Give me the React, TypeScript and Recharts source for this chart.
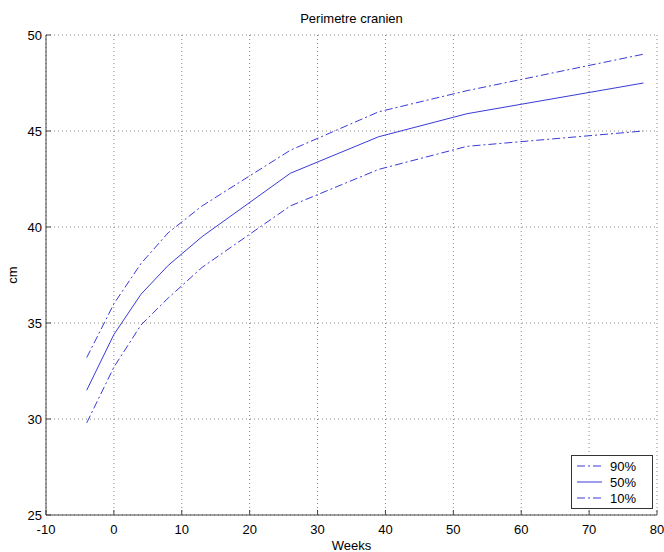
import React from 'react';
import { LineChart, Line, XAxis, YAxis, CartesianGrid, Legend } from 'recharts';

const weeks = [-4, 0, 4, 8, 13, 26, 39, 52, 78];
const p90 = [33.2, 36.0, 38.1, 39.7, 41.1, 44.0, 46.0, 47.1, 49.0];
const p50 = [31.5, 34.4, 36.5, 38.0, 39.5, 42.8, 44.7, 45.9, 47.5];
const p10 = [29.8, 32.7, 34.9, 36.3, 37.9, 41.1, 43.0, 44.2, 45.0];
const xTicks = [-10, 0, 10, 20, 30, 40, 50, 60, 70, 80];
const yTicks = [25, 30, 35, 40, 45, 50];
const seriesNames = ['90%', '50%', '10%'];

const data = weeks.map((w, i) => ({ w, p90: p90[i], p50: p50[i], p10: p10[i] }));

const LINE_COLOR = '#3a3ad8';
const DASHDOT = '8 3 2 3';
const FONT = '"Liberation Sans", Arial, sans-serif';

const legendItems = [
  { name: seriesNames[0], dash: DASHDOT },
  { name: seriesNames[1], dash: undefined },
  { name: seriesNames[2], dash: DASHDOT },
];

const LegendBox = () => (
  <div
    style={{
      width: 82,
      height: 54,
      border: '1px solid #333',
      background: '#fff',
      boxSizing: 'border-box',
      fontFamily: FONT,
      fontSize: 13,
      color: '#000',
      paddingTop: 2,
    }}
  >
    {legendItems.map((it) => (
      <div key={it.name} style={{ display: 'flex', alignItems: 'center', height: 16 }}>
        <svg width={34} height={10} style={{ marginLeft: 4 }}>
          <line x1={1} y1={5} x2={26} y2={5} stroke={LINE_COLOR} strokeWidth={1} strokeDasharray={DASHDOT && it.dash} />
        </svg>
        <span>{it.name}</span>
      </div>
    ))}
  </div>
);

export default function App() {
  return (
    <div style={{ position: 'fixed', left: 0, top: 0, width: 664, height: 552, background: '#fff' }}>
      <div
        style={{
          position: 'absolute',
          left: 46,
          width: 611,
          top: 11,
          textAlign: 'center',
          fontFamily: FONT,
          fontSize: 13,
          color: '#000',
        }}
      >
        Perimetre cranien
      </div>
      <LineChart width={664} height={552} data={data} margin={{ top: 35, right: 7, bottom: 0, left: 0 }}>
        <CartesianGrid stroke="#888" strokeDasharray="1 3" />
        <XAxis
          dataKey="w"
          type="number"
          domain={[-10, 80]}
          ticks={xTicks}
          height={37}
          tickSize={-5}
          tickMargin={15}
          axisLine={{ stroke: '#444' }}
          tickLine={{ stroke: '#444' }}
          tick={{ fill: '#000', fontSize: 13, fontFamily: FONT }}
          interval={0}
          label={{ value: 'Weeks', position: 'insideBottom', offset: 2, style: { fill: '#000', fontSize: 13, fontFamily: FONT } }}
        />
        <YAxis
          type="number"
          domain={[25, 50]}
          ticks={yTicks}
          width={46}
          tickSize={-5}
          tickMargin={9}
          axisLine={{ stroke: '#444' }}
          tickLine={{ stroke: '#444' }}
          tick={{ fill: '#000', fontSize: 13, fontFamily: FONT }}
          interval={0}
          label={{ value: 'cm', angle: -90, position: 'insideLeft', offset: 12, style: { fill: '#000', fontSize: 13, fontFamily: FONT, textAnchor: 'middle' } }}
        />
        <Legend
          layout="vertical"
          align="center"
          verticalAlign="middle"
          wrapperStyle={{ left: 571, top: 455, width: 82, height: 54 }}
          content={() => <LegendBox />}
        />
        <Line dataKey="p90" name={seriesNames[0]} stroke={LINE_COLOR} strokeWidth={1} strokeDasharray={DASHDOT} dot={false} isAnimationActive={false} type="linear" />
        <Line dataKey="p50" name={seriesNames[1]} stroke={LINE_COLOR} strokeWidth={1} dot={false} isAnimationActive={false} type="linear" />
        <Line dataKey="p10" name={seriesNames[2]} stroke={LINE_COLOR} strokeWidth={1} strokeDasharray={DASHDOT} dot={false} isAnimationActive={false} type="linear" />
      </LineChart>
    </div>
  );
}
